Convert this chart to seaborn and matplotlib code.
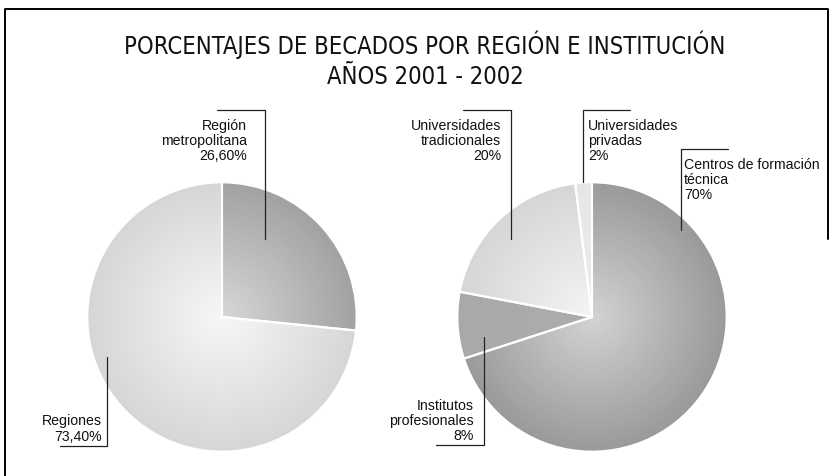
import numpy as np
import matplotlib.pyplot as plt
import seaborn as sns

# data
region_labels = ["Región\nmetropolitana\n26,60%", "Regiones\n73,40%"]
region_values = [26.6, 73.4]
inst_labels = ["Centros de formación\ntécnica\n70%", "Institutos\nprofesionales\n8%",
               "Universidades\ntradicionales\n20%", "Universidades\nprivadas\n2%"]
inst_values = [70, 8, 20, 2]

# gradient colours (edge -> centre) for each slice
region_colors = [("#a2a2a2", "#d6d6d6"), ("#d6d6d6", "#f6f6f6")]
inst_colors = [("#9a9a9a", "#d2d2d2"), ("#a9a9a9", "#acacac"),
               ("#d6d6d6", "#f4f4f4"), ("#e6e6e6", "#ececec")]

sns.set_theme(style="white")
plt.rcParams['font.family'] = ['Liberation Sans', 'DejaVu Sans']

W, H = 833, 477
fig = plt.figure(figsize=(W / 100, H / 100), dpi=100)


def px_axes(cx, cy, r):
    return fig.add_axes([(cx - r) / W, 1 - (cy + r) / H, 2 * r / W, 2 * r / H])


def gradient_pie(ax, values, colors, n=70):
    ramps = [sns.blend_palette(list(c), n) for c in colors]
    for i, rad in enumerate(np.linspace(1, 0.02, n)):
        ax.pie(values, radius=rad, startangle=90, counterclock=False,
               colors=[r[i] for r in ramps],
               wedgeprops=dict(linewidth=0, edgecolor='none'))
    ax.pie(values, radius=1, startangle=90, counterclock=False,
           wedgeprops=dict(fill=False, edgecolor='white', linewidth=1.5))
    ax.set_xlim(-1.01, 1.01)
    ax.set_ylim(-1.01, 1.01)
    ax.set_axis_off()


ax1 = px_axes(222, 318, 136)
gradient_pie(ax1, region_values, region_colors)
ax2 = px_axes(592, 318, 136)
gradient_pie(ax2, inst_values, inst_colors)

# overlay axes in pixel coordinates for frame, leaders and labels
ov = fig.add_axes([0, 0, 1, 1], zorder=5)
ov.set_xlim(0, W)
ov.set_ylim(H, 0)
ov.set_axis_off()
ov.patch.set_alpha(0)

# frame
ov.plot([5, 5, 828, 828], [477, 10, 10, 240], color='black', lw=1.4)

# title
title_font = dict(fontsize=17, fontstretch='condensed', color='#111111',
                  family=['DejaVu Sans', 'Liberation Sans'])
ov.text(425, 45, "PORCENTAJES DE BECADOS POR REGIÓN E INSTITUCIÓN",
        ha='center', va='center', **title_font)
ov.text(425, 77, "AÑOS 2001 - 2002", ha='center', va='center', **title_font)

lk = dict(color='#222222', lw=0.9)
tk = dict(fontsize=10.2, linespacing=1.12, color='#111111')

# Región metropolitana
ov.plot([217, 265, 265], [111, 111, 240], **lk)
ov.text(247, 141, region_labels[0], ha='right', va='center', **tk)
# Regiones
ov.plot([60, 107, 107], [447, 447, 358], **lk)
ov.text(102, 429, region_labels[1], ha='right', va='center', **tk)
# Centros de formación técnica
ov.plot([728, 681, 681], [150, 150, 231], **lk)
ov.text(684, 180, inst_labels[0], ha='left', va='center', **tk)
# Institutos profesionales
ov.plot([436, 484, 484], [446, 446, 338], **lk)
ov.text(474, 421, inst_labels[1], ha='right', va='center', **tk)
# Universidades tradicionales
ov.plot([463, 511, 511], [111, 111, 240], **lk)
ov.text(501, 141, inst_labels[2], ha='right', va='center', **tk)
# Universidades privadas
ov.plot([630, 583, 583], [111, 111, 183], **lk)
ov.text(588, 141, inst_labels[3], ha='left', va='center', **tk)

plt.savefig('out.png', dpi=100)
